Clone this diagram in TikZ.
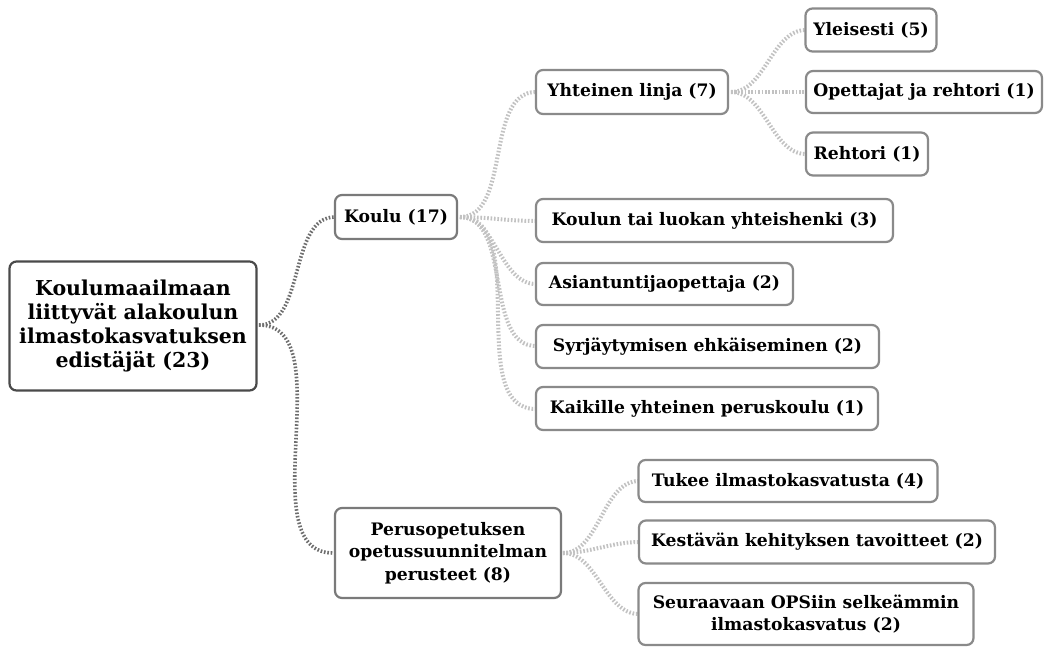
\documentclass[tikz,border=0pt]{standalone}
\usepackage{fontspec}
\setmainfont{DejaVu Serif}
\begin{document}
\begin{tikzpicture}[x=1pt,y=-1pt,
  box/.style={draw=boxgray,line width=2.2pt,rounded corners=7pt,fill=white,
    inner sep=0pt,font=\bfseries\fontsize{17.2}{22.5}\selectfont,align=center},
  rootbox/.style={box,draw=rootgray,font=\bfseries\fontsize{20.5}{24}\selectfont},
  midbox/.style={box,draw=midgray},
  link/.style={line width=4pt,dash pattern=on 1.6pt off 1.8pt,draw=linkgray},
  rootlink/.style={link,draw=rootlinkgray,line width=3.6pt}]
\definecolor{boxgray}{HTML}{8A8A8A}
\definecolor{midgray}{HTML}{7A7A7A}
\definecolor{rootgray}{HTML}{4A4A4A}
\definecolor{linkgray}{HTML}{C2C2C2}
\definecolor{rootlinkgray}{HTML}{6E6E6E}
\useasboundingbox (0,0) rectangle (1048,646);
\fill[white] (0,0) rectangle (1048,646);

% connectors first, so the boxes sit on top of their ends
\coordinate (rootR) at (259,325);
\coordinate (kouluR) at (460,217);
\coordinate (linjaR) at (731,92);
\coordinate (opsR) at (563,553);
\draw[rootlink] (rootR) to[out=0,in=180,looseness=0.9] (335,217);
\draw[rootlink] (rootR) to[out=0,in=180,looseness=0.9] (333,553);
\foreach \y in {92,221,284,346,409}
  \draw[link] (kouluR) to[out=0,in=180,looseness=0.9] (536,\y);
\foreach \y in {30,92,154}
  \draw[link] (linjaR) to[out=0,in=180,looseness=0.9] (806,\y);
\foreach \y in {481,542,614}
  \draw[link] (opsR) to[out=0,in=180,looseness=0.9] (639,\y);

% nodes
\node[rootbox,minimum width=247,minimum height=129] (root) at (133,326)
  {Koulumaailmaan\\liittyvät alakoulun\\ilmastokasvatuksen\\edistäjät (23)};
\node[midbox,minimum width=122,minimum height=44] (koulu) at (396,217) {Koulu (17)};
\node[box,minimum width=192,minimum height=44] (linja) at (632,92) {Yhteinen linja (7)};
\node[box,minimum width=131,minimum height=43] (yleis) at (871,30) {Yleisesti (5)};
\node[box,minimum width=236,minimum height=42] (opet) at (924,92) {Opettajat ja rehtori (1)};
\node[box,minimum width=122,minimum height=43] (rehtori) at (867,154) {Rehtori (1)};
\node[box,minimum width=357,minimum height=43] (henki) at (714.5,220.5) {Koulun tai luokan yhteishenki (3)};
\node[box,minimum width=257,minimum height=42] (asian) at (664.5,284) {Asiantuntijaopettaja (2)};
\node[box,minimum width=343,minimum height=43] (syrja) at (707.5,346.5) {Syrjäytymisen ehkäiseminen (2)};
\node[box,minimum width=342,minimum height=43] (kaikki) at (707,408.5) {Kaikille yhteinen peruskoulu (1)};
\node[midbox,minimum width=226,minimum height=90] (ops) at (448,553)
  {Perusopetuksen\\opetussuunnitelman\\perusteet (8)};
\node[box,minimum width=299,minimum height=42] (tukee) at (788,481) {Tukee ilmastokasvatusta (4)};
\node[box,minimum width=356,minimum height=43] (kest) at (817,542) {Kestävän kehityksen tavoitteet (2)};
\node[box,minimum width=335,minimum height=62] (seur) at (806,614)
  {Seuraavaan OPSiin selkeämmin\\ilmastokasvatus (2)};
\end{tikzpicture}
\end{document}
